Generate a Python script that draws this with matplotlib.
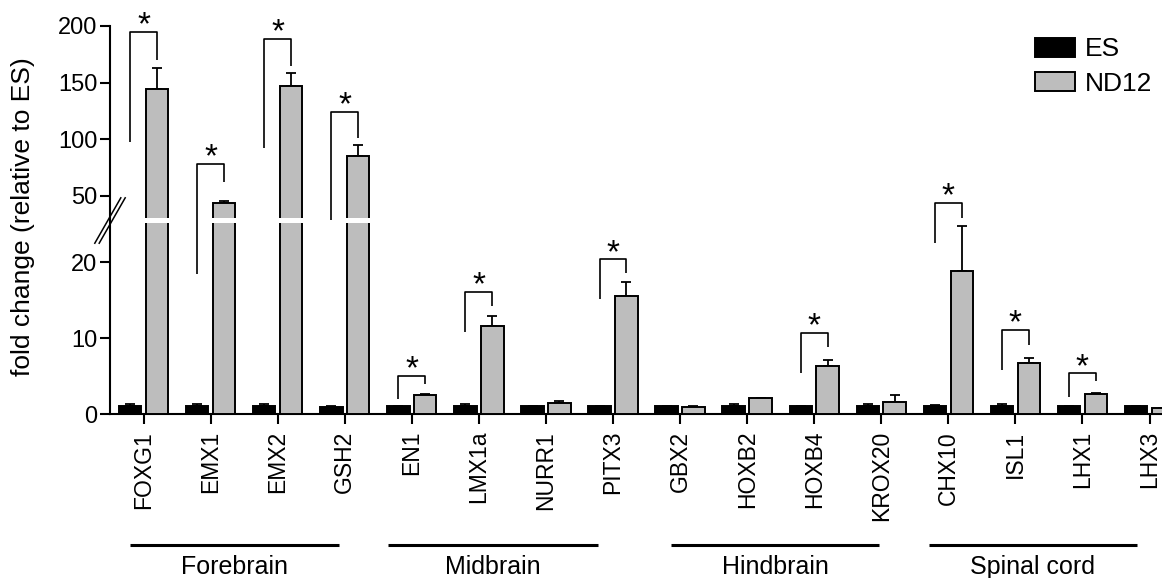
import numpy as np
import matplotlib
matplotlib.use("Agg")
import matplotlib.pyplot as plt
from matplotlib.scale import FuncScale
from matplotlib.lines import Line2D
from matplotlib.transforms import blended_transform_factory, offset_copy

# ---- data -------------------------------------------------------------
genes = ["FOXG1", "EMX1", "EMX2", "GSH2",
         "EN1", "LMX1a", "NURR1", "PITX3",
         "GBX2", "HOXB2", "HOXB4", "KROX20",
         "CHX10", "ISL1", "LHX1", "LHX3"]

es_mean = [1.1, 1.1, 1.1, 1.0, 1.05, 1.1, 1.05, 1.1,
           1.05, 1.1, 1.05, 1.1, 1.15, 1.1, 1.05, 1.05]
es_err = [0.2, 0.2, 0.2, 0.05, 0.05, 0.25, 0.05, 0.05,
          0.05, 0.25, 0.05, 0.2, 0.05, 0.25, 0.05, 0.05]

nd12_mean = [144.7, 44.1, 147.4, 85.3, 2.6, 11.6, 1.45, 15.5,
             1.0, 2.1, 6.3, 1.6, 18.8, 6.8, 2.7, 0.87]
nd12_err = [18.0, 1.3, 11.5, 10.0, 0.1, 1.3, 0.25, 1.9,
            0.15, 0.0, 0.8, 0.9, 6.0, 0.65, 0.1, 0.0]

# significance brackets: gene index, left-leg bottom, top, right-leg bottom
sig_idx = [0, 1, 2, 3, 4, 5, 7, 10, 12, 13, 14]
sig_left = [97.9, 18.4, 92.1, 28.5, 1.97, 10.87, 15.13, 5.47, 22.5, 5.83, 2.32]
sig_top = [194.5, 78.0, 188.3, 124.4, 5.08, 16.13, 20.39, 10.74, 44.1, 11.09, 5.39]
sig_right = [170.1, 62.6, 165.0, 100.9, 3.95, 14.25, 18.55, 8.82, 30.3, 9.12, 4.38]

# region groups: name, first and last position of the underline
regions = ["Forebrain", "Midbrain", "Hindbrain", "Spinal cord"]
region_start = [-0.2, 3.65, 7.87, 11.71]
region_end = [2.92, 6.77, 10.97, 14.81]

yticks = [0, 10, 20, 50, 100, 150, 200]

# ---- broken y scale: 0-25 stretched, 25-200 compressed -----------------
BREAK = 25.0
LOW = 7.6
HIGH = 1.1326
GAP = (26.0, 30.6)
BREAK_MARK_Y = 28.3


def fwd(v):
    v = np.asarray(v, dtype=float)
    return np.where(v <= BREAK, v * LOW, BREAK * LOW + (v - BREAK) * HIGH)


def inv(p):
    p = np.asarray(p, dtype=float)
    return np.where(p <= BREAK * LOW, p / LOW, BREAK + (p - BREAK * LOW) / HIGH)


plt.rcParams["font.family"] = ["Liberation Sans", "DejaVu Sans"]

W, H = 1162, 578
fig = plt.figure(figsize=(W / 100, H / 100), dpi=100)
ax = fig.add_axes([110 / W, (H - 414.3) / H, (W - 110) / W, (414.3 - 26) / H])
ax.set_yscale(FuncScale(ax, (fwd, inv)))

x = np.arange(len(genes))
bw = 0.335
off = 0.2
es_col = "#000000"
nd_col = "#bdbdbd"
lw = 1.4

b_es = ax.bar(x - off, es_mean, bw, color=es_col, edgecolor="black", linewidth=lw,
              zorder=3, label="ES")
b_nd = ax.bar(x + off, nd12_mean, bw, color=nd_col, edgecolor="black", linewidth=lw,
              zorder=3, label="ND12")

ax.errorbar(x - off, es_mean, yerr=[np.zeros(len(x)), es_err], fmt="none",
            ecolor="black", elinewidth=1.3, capsize=3.8, capthick=1.3, zorder=2)
ax.errorbar(x + off, nd12_mean, yerr=[np.zeros(len(x)), nd12_err], fmt="none",
            ecolor="black", elinewidth=1.3, capsize=3.8, capthick=1.3, zorder=2)

# white gap through bars that cross the axis break
for xi, v in zip(x, nd12_mean):
    if v > GAP[1]:
        ax.bar(xi + off, GAP[1] - GAP[0], bw + 0.05, bottom=GAP[0], color="white",
               linewidth=0, zorder=4)

# significance brackets and stars
star_tr = offset_copy(ax.transData, fig=fig, x=0, y=-1.8, units="points")
for i, yl, yt, yr in zip(sig_idx, sig_left, sig_top, sig_right):
    ax.plot([i - off, i - off, i + off, i + off], [yl, yt, yt, yr], color="black",
            lw=1.2, solid_capstyle="butt", zorder=5, clip_on=False)
    ax.text(i, yt, "*", ha="center", va="baseline", fontsize=24,
            transform=star_tr, zorder=6, clip_on=False)

# axes styling
ax.set_xlim(-0.5, 15.186)
ax.set_ylim(0, 200)
ax.set_yticks(yticks)
ax.set_yticklabels([str(t) for t in yticks])
ax.set_xticks(x)
ax.set_xticklabels(genes, rotation=90, va="top", ha="center")
for s in ("top", "right"):
    ax.spines[s].set_visible(False)
for s in ("left", "bottom"):
    ax.spines[s].set_linewidth(1.5)
ax.tick_params(axis="y", length=7, width=1.5, labelsize=17, pad=2)
ax.tick_params(axis="x", length=7, width=1.5, labelsize=16.5, pad=5)

ax.set_ylabel("fold change (relative to ES)", fontsize=19)
ax.yaxis.set_label_coords(-0.071, 0.508)

# "//" break marks across the y axis
anchor = blended_transform_factory(ax.transAxes, ax.transData).transform((0, BREAK_MARK_Y))
for dx in (-2.2, 2.2):
    xs = [(anchor[0] + dx - 13) / W, (anchor[0] + dx + 13) / W]
    ys = [(anchor[1] - 22.7) / H, (anchor[1] + 22.7) / H]
    fig.add_artist(Line2D(xs, ys, transform=fig.transFigure, color="black", lw=1.1))

# region underlines and names
tr_reg = blended_transform_factory(ax.transData, ax.transAxes)
for name, a, b in zip(regions, region_start, region_end):
    ax.plot([a, b], [-0.3366, -0.3366], color="black", lw=2.2, transform=tr_reg,
            clip_on=False, solid_capstyle="butt")
    ax.text((a + b) / 2, -0.411, name, ha="center", va="baseline", fontsize=18,
            transform=tr_reg)

leg = ax.legend(handles=[b_es, b_nd], labels=["ES", "ND12"], frameon=False,
                fontsize=19, loc="upper left",
                bbox_to_anchor=(1035 / W, 1 - 37.5 / H),
                bbox_transform=fig.transFigure, borderpad=0, borderaxespad=0,
                handlelength=1.52, handleheight=0.76, handletextpad=0.38,
                labelspacing=0.39)

fig.savefig("out.png", dpi=100)
